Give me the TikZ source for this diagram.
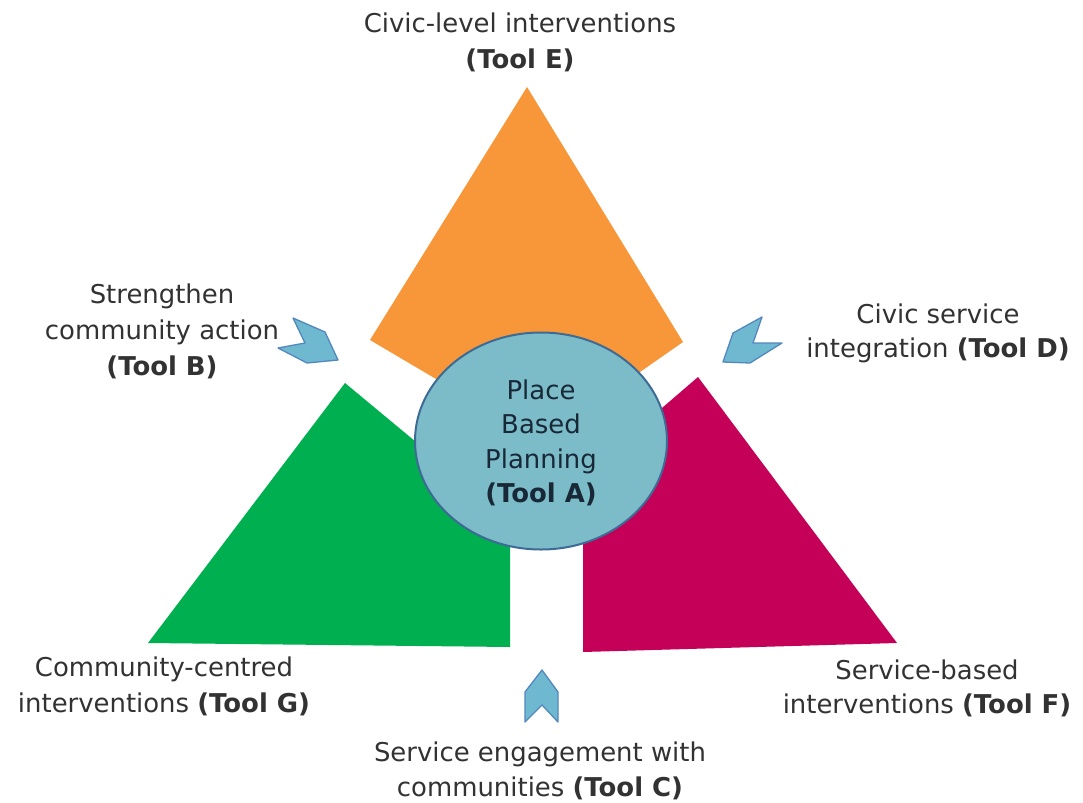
\documentclass[tikz,border=0pt]{standalone}
\usepackage{fontspec}
\setmainfont{DejaVu Sans}
\usetikzlibrary{shapes.geometric}
\definecolor{orangeE}{RGB}{247,151,57}
\definecolor{greenG}{RGB}{0,176,80}
\definecolor{magF}{RGB}{196,0,88}
\definecolor{ellFill}{RGB}{123,188,200}
\definecolor{ellDraw}{RGB}{62,106,150}
\definecolor{chevFill}{RGB}{110,185,207}
\definecolor{chevDraw}{RGB}{84,135,192}
\definecolor{txtgray}{RGB}{50,50,50}
\definecolor{txtdark}{RGB}{25,40,55}
\tikzset{
  lbl/.style={font=\fontsize{26}{36}\selectfont, align=center, text=txtgray, inner sep=0pt},
  chev/.style={fill=chevFill, draw=chevDraw, line width=1.3bp, line join=round},
  hub/.style={ellipse, draw=ellDraw, fill=ellFill, line width=2bp, minimum width=252bp, minimum height=217bp, inner sep=0pt}
}
\begin{document}
\begin{tikzpicture}[x=1bp,y=-1bp]
\useasboundingbox[fill=white] (0,0) rectangle (1083,803);
% sectors
\fill[orangeE] (527,87) -- (370,340) -- (541,441) -- (683,342) -- cycle;
\fill[greenG] (345,383) -- (148,643) -- (510,647) -- (510,520) -- cycle;
\fill[magF] (698,377) -- (897,643) -- (583,652) -- (583,476) -- cycle;
% hub
\node[hub] (A) at (541,441) {};
\node[lbl, text=txtdark, font=\fontsize{26}{34.5}\selectfont] (At) at (541,443) {Place\\Based\\Planning\\\textbf{(Tool A)}};
% chevrons
\filldraw[chev] (293,318) -- (325,332) -- (338,360) -- (307,363) -- (278,348) -- (305,343) -- cycle;
\filldraw[chev] (762,317) -- (753,343) -- (782,343) -- (750,363) -- (723,362) -- (733,333) -- cycle;
\filldraw[chev] (542,670) -- (558,692) -- (558,722) -- (542,705) -- (525,722) -- (525,692) -- cycle;
% labels
\node[lbl] (E) at (520,42) {Civic-level interventions\\\textbf{(Tool E)}};
\node[lbl] (B) at (162,331) {Strengthen\\community action\\\textbf{(Tool B)}};
\node[lbl, font=\fontsize{26}{34}\selectfont] (D) at (938,333) {Civic service\\integration \textbf{(Tool D)}};
\node[lbl] (G) at (164,686) {Community-centred\\interventions \textbf{(Tool G)}};
\node[lbl, font=\fontsize{26}{34}\selectfont] (F) at (927,688) {Service-based\\interventions \textbf{(Tool F)}};
\node[lbl, font=\fontsize{26}{35}\selectfont] (C) at (540,771) {Service engagement with\\communities \textbf{(Tool C)}};
\end{tikzpicture}
\end{document}
